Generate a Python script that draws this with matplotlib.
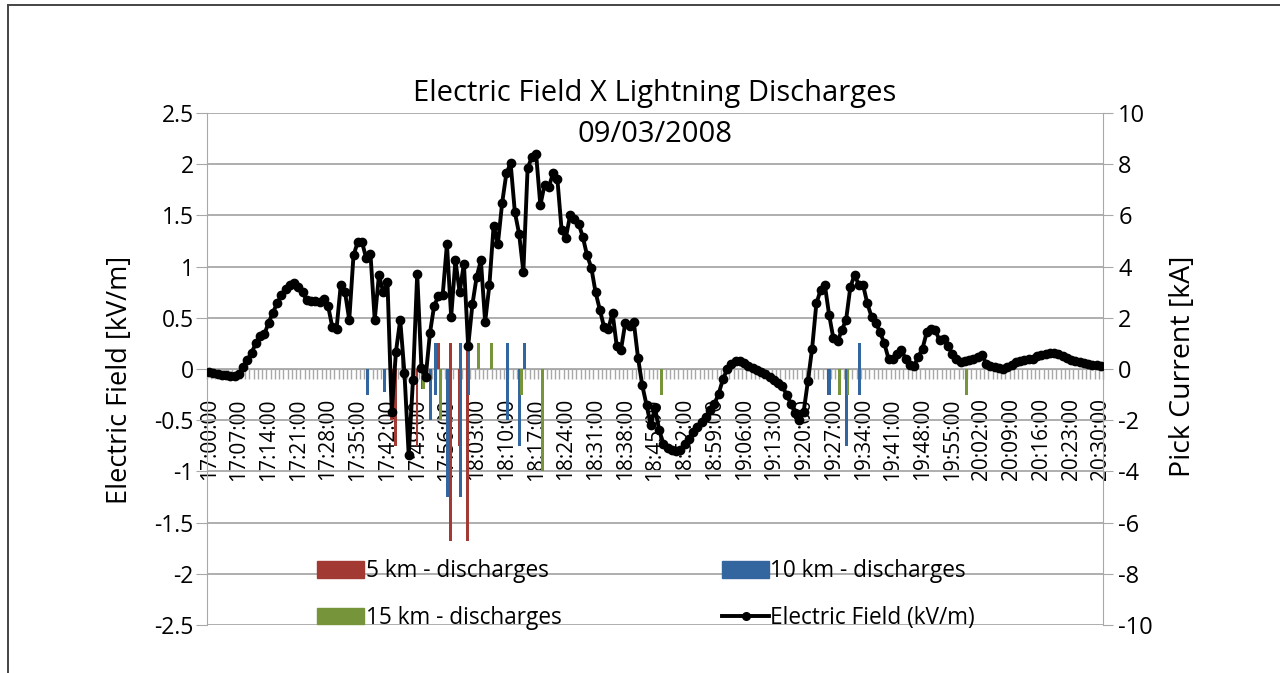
import numpy as np
import matplotlib
matplotlib.use("Agg")
import matplotlib.pyplot as plt
from matplotlib.patches import Patch
from matplotlib.lines import Line2D
from matplotlib.ticker import FuncFormatter, FixedLocator

plt.rcParams['font.family'] = ['Open Sans', 'DejaVu Sans']

# ---------------- data ----------------
# electric field (kV/m), one sample per minute from 17:00 to 20:30
field = [
    -0.03, -0.04, -0.05, -0.06, -0.06, -0.07, -0.07, -0.05, 0.02, 0.09,
    0.16, 0.25, 0.32, 0.34, 0.45, 0.55, 0.64, 0.72, 0.78, 0.82,
    0.84, 0.80, 0.75, 0.67, 0.66, 0.66, 0.65, 0.68, 0.62, 0.41,
    0.39, 0.82, 0.75, 0.48, 1.11, 1.24, 1.24, 1.08, 1.12, 0.48,
    0.92, 0.75, 0.85, -0.42, 0.17, 0.48, -0.04, -0.84, -0.11, 0.93,
    0.01, -0.08, 0.35, 0.62, 0.71, 0.72, 1.22, 0.51, 1.06, 0.75,
    1.03, 0.22, 0.63, 0.90, 1.06, 0.46, 0.82, 1.40, 1.22, 1.62,
    1.91, 2.01, 1.53, 1.32, 0.95, 1.96, 2.07, 2.10, 1.60, 1.80,
    1.78, 1.91, 1.86, 1.36, 1.28, 1.50, 1.46, 1.42, 1.29, 1.11,
    0.99, 0.75, 0.58, 0.41, 0.39, 0.55, 0.22, 0.19, 0.45, 0.42,
    0.46, 0.11, -0.16, -0.35, -0.55, -0.38, -0.60, -0.73, -0.77, -0.79,
    -0.80, -0.79, -0.73, -0.68, -0.62, -0.57, -0.52, -0.47, -0.40, -0.34,
    -0.24, -0.10, 0.00, 0.05, 0.08, 0.08, 0.06, 0.03, 0.01, -0.01,
    -0.03, -0.05, -0.08, -0.11, -0.14, -0.17, -0.25, -0.34, -0.43, -0.50,
    -0.42, -0.12, 0.20, 0.64, 0.77, 0.82, 0.53, 0.30, 0.27, 0.38,
    0.48, 0.80, 0.92, 0.82, 0.82, 0.64, 0.51, 0.45, 0.36, 0.25,
    0.10, 0.10, 0.15, 0.19, 0.10, 0.04, 0.03, 0.12, 0.20, 0.36,
    0.39, 0.38, 0.28, 0.29, 0.22, 0.15, 0.10, 0.07, 0.08, 0.09,
    0.10, 0.12, 0.14, 0.05, 0.03, 0.02, 0.01, 0.00, 0.02, 0.04,
    0.07, 0.08, 0.09, 0.10, 0.10, 0.13, 0.14, 0.15, 0.16, 0.16,
    0.15, 0.13, 0.11, 0.09, 0.08, 0.07, 0.06, 0.05, 0.04, 0.04,
    0.03,
]
minutes = np.arange(len(field))  # minutes after 17:00

# discharges: minute after 17:00 and peak current (kA)
d5_min = [43, 44, 49, 54, 57, 57, 59, 61, 61, 146]
d5_ka = [-2.0, -3.0, -3.0, 1.0, 1.0, -6.7, -3.0, 1.0, -6.7, -1.0]

d10_min = [37, 41, 50, 52, 53, 53, 56, 59, 59, 61, 61, 70, 70, 73, 74, 146, 150, 153, 153]
d10_ka = [-1.0, -0.9, -0.8, -2.0, 1.0, -1.0, -5.0, 1.0, -5.0, 1.0, -1.0, 1.0, -2.0, -3.0, 1.0, -1.0, -3.0, 1.0, -1.0]

d15_min = [45, 50, 54, 63, 66, 73, 78, 106, 148, 150, 178]
d15_ka = [1.0, -0.8, -2.0, 1.0, 1.0, -1.0, -4.0, -1.0, -1.0, -1.0, -1.0]

tick_labels = [
    "17:00:00", "17:07:00", "17:14:00", "17:21:00", "17:28:00", "17:35:00",
    "17:42:00", "17:49:00", "17:56:00", "18:03:00", "18:10:00", "18:17:00",
    "18:24:00", "18:31:00", "18:38:00", "18:45:00", "18:52:00", "18:59:00",
    "19:06:00", "19:13:00", "19:20:00", "19:27:00", "19:34:00", "19:41:00",
    "19:48:00", "19:55:00", "20:02:00", "20:09:00", "20:16:00", "20:23:00",
    "20:30:00",
]

# ---------------- style ----------------
C_RED = '#A23A33'
C_BLUE = '#33659F'
C_GREEN = '#76953A'
GRID = '#A8A8A8'

W, H = 1280, 673
fig = plt.figure(figsize=(W / 100, H / 100), dpi=100)
L, R, T, B = 207, 1103, 113, 625
ax = fig.add_axes([L / W, 1 - B / H, (R - L) / W, (B - T) / H])
ax2 = ax.twinx()

# bars (kA) on the lower axes
bw = 0.7
ax.bar(np.array(d5_min) - 0.05, d5_ka, width=bw, color=C_RED, zorder=3)
ax.bar(np.array(d10_min) + 0.2, d10_ka, width=bw, color=C_BLUE, zorder=3)
ax.bar(np.array(d15_min) + 0.45, d15_ka, width=bw, color=C_GREEN, zorder=3)

ax.set_xlim(-0.5, len(field) - 0.5)
ax.set_ylim(-10, 10)
ax.set_yticks(np.arange(-10, 11, 2))
ax.yaxis.grid(True, color=GRID, lw=1.3, zorder=0)
ax.set_axisbelow(True)
ax.yaxis.tick_right()
ax.yaxis.set_label_position('right')
ax.yaxis.set_major_formatter(FuncFormatter(lambda v, p: f"{v:g}"))
ax.tick_params(axis='y', length=7, color=GRID, labelsize=17, pad=4)
ax.set_ylabel("Pick Current [kA]", fontsize=20.5)
ax.yaxis.set_label_coords((1169 - L) / (R - L), (B - 366) / (B - T))

# x axis crossing at zero
ax.spines['bottom'].set_position(('data', 0))
ax.spines['bottom'].set_color(GRID)
ax.spines['top'].set_visible(False)
for s in ('left', 'right'):
    ax.spines[s].set_color(GRID)
ax.xaxis.set_major_locator(FixedLocator(np.arange(0, len(field), 7)))
ax.set_xticklabels(tick_labels, rotation=90, fontsize=15)
ax.xaxis.set_minor_locator(FixedLocator(np.arange(-0.5, len(field), 1.0)))
ax.tick_params(axis='x', which='major', length=0, pad=21)
ax.tick_params(axis='x', which='minor', length=7, color=GRID, width=1)

# electric field on the upper axes
ax2.plot(minutes, field, color='black', lw=2.8, marker='o', ms=6, zorder=5)
ax2.set_ylim(-2.5, 2.5)
ax2.set_yticks(np.arange(-2.5, 2.51, 0.5))
ax2.yaxis.tick_left()
ax2.yaxis.set_label_position('left')
ax2.yaxis.set_major_formatter(FuncFormatter(lambda v, p: f"{v:g}"))
ax2.tick_params(axis='y', length=8, color=GRID, labelsize=16.5, pad=1.5)
ax2.set_ylabel("Electric Field [kV/m]", fontsize=19.5)
ax2.yaxis.set_label_coords((134 - L) / (R - L), (B - 380) / (B - T))
for s in ax2.spines.values():
    s.set_visible(False)

# titles
cx = (L + R) / 2 / W
fig.text(cx, 1 - 94 / H, "Electric Field X Lightning Discharges", ha='center', va='center', fontsize=21)
fig.text(cx, 1 - 134 / H, "09/03/2008", ha='center', va='center', fontsize=21)

# legend
handles = [
    Patch(color=C_RED, label="5 km - discharges"),
    Patch(color=C_GREEN, label="15 km - discharges"),
    Patch(color=C_BLUE, label="10 km - discharges"),
    Line2D([], [], color='black', lw=2.8, marker='o', ms=5.5, label="Electric Field (kV/m)"),
]
fig.legend(handles=handles, ncol=2, frameon=False, fontsize=16.3,
           loc='upper left', bbox_to_anchor=(306 / W, 1 - 548 / H),
           handlelength=2.08, handleheight=0.75, handletextpad=0.05,
           columnspacing=7.1, labelspacing=1.0, borderpad=0)

# outer frame lines
fig.add_artist(Line2D([8 / W, 1], [1 - 5 / H, 1 - 5 / H], transform=fig.transFigure, color='#444444', lw=1.4))
fig.add_artist(Line2D([8 / W, 8 / W], [0, 1 - 5 / H], transform=fig.transFigure, color='#444444', lw=1.4))

fig.savefig("out.png", dpi=100)
